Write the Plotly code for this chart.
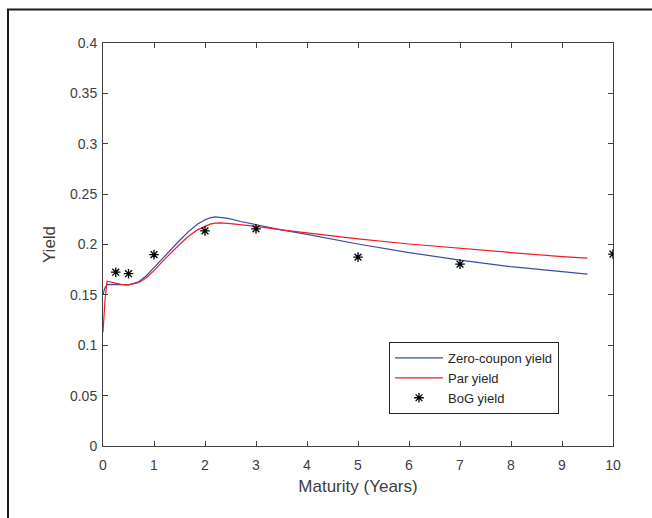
import plotly.graph_objects as go

# Data
zc_mat = [0.0, 0.03, 0.08, 0.25, 0.5, 0.7, 0.85, 1.0, 1.2, 1.35, 1.5, 1.67, 1.85, 2.0, 2.1, 2.2, 2.3, 2.45, 2.7, 3.0, 3.5, 4.0, 5.0, 6.0, 7.0, 8.0, 9.0, 9.5]
zc_yield = [0.150, 0.156, 0.1605, 0.1605, 0.160, 0.163, 0.169, 0.177, 0.188, 0.196, 0.204, 0.2125, 0.220, 0.2245, 0.2265, 0.2275, 0.2272, 0.2260, 0.2228, 0.2195, 0.2145, 0.2100, 0.2005, 0.1920, 0.1845, 0.1780, 0.1730, 0.1705]

par_mat = [0.0, 0.04, 0.08, 0.2, 0.35, 0.5, 0.7, 0.85, 1.0, 1.2, 1.35, 1.5, 1.67, 1.85, 2.0, 2.1, 2.2, 2.3, 2.5, 3.0, 3.5, 4.0, 5.0, 6.0, 7.0, 8.0, 9.0, 9.5]
par_yield = [0.113, 0.145, 0.1635, 0.1625, 0.1605, 0.1600, 0.162, 0.167, 0.174, 0.185, 0.192, 0.200, 0.208, 0.2145, 0.218, 0.2202, 0.2213, 0.2215, 0.2207, 0.2180, 0.2145, 0.2115, 0.2055, 0.2005, 0.1960, 0.1920, 0.1880, 0.1865]

bog_mat = [0.25, 0.5, 1, 2, 3, 5, 7, 10]
bog_yield = [0.1725, 0.171, 0.190, 0.2135, 0.2155, 0.1875, 0.1805, 0.1905]

x_ticks = list(range(0, 11))
y_ticks = [0, 0.05, 0.1, 0.15, 0.2, 0.25, 0.3, 0.35, 0.4]
y_ticklabels = ["0", "0.05", "0.1", "0.15", "0.2", "0.25", "0.3", "0.35", "0.4"]

fig = go.Figure()
fig.add_trace(go.Scatter(x=zc_mat, y=zc_yield, mode="lines", name="Zero-coupon yield",
                         line=dict(color="#3a4ba6", width=1.2)))
fig.add_trace(go.Scatter(x=par_mat, y=par_yield, mode="lines", name="Par yield",
                         line=dict(color="#ee1c25", width=1.2)))
fig.add_trace(go.Scatter(x=bog_mat, y=bog_yield, mode="markers", name="BoG yield",
                         marker=dict(symbol="asterisk-open", size=8, color="black",
                                     line=dict(color="black", width=1.3))))

W, H = 652, 518
L, R, T, B = 103, 613, 43, 446
pw, ph = R - L, B - T

def px(xp):
    return (xp - L) / pw

def py(yp):
    return (B - yp) / ph

fig.update_layout(
    width=W, height=H,
    margin=dict(l=L, r=W - R, t=T, b=H - B),
    paper_bgcolor="white", plot_bgcolor="white",
    font=dict(family="Liberation Sans, Arial, sans-serif", color="#404040", size=14),
    showlegend=True,
    legend=dict(x=px(389), y=py(342), xanchor="left", yanchor="top",
                bordercolor="#262626", borderwidth=1, bgcolor="white",
                font=dict(size=13, color="#262626"), tracegroupgap=0,
                itemwidth=48),
    xaxis=dict(range=[0, 10], tickvals=x_ticks, ticks="inside", ticklen=5,
               showline=True, linecolor="#404040", linewidth=1, mirror="allticks",
               showgrid=False, zeroline=False, tickcolor="#404040",
               tickfont=dict(size=14), ticklabelstandoff=6,
               title=dict(text="Maturity (Years)", font=dict(size=17, color="#404040"), standoff=8)),
    yaxis=dict(range=[0, 0.4], tickvals=y_ticks, ticktext=y_ticklabels, ticks="inside", ticklen=5,
               showline=True, linecolor="#404040", linewidth=1, mirror="allticks",
               showgrid=False, zeroline=False, tickcolor="#404040",
               tickfont=dict(size=14), ticklabelstandoff=2,
               title=dict(text="Yield", font=dict(size=17, color="#404040"), standoff=10)),
    shapes=[
        dict(type="line", xref="paper", yref="paper", x0=px(7), x1=px(652), y0=py(9.5), y1=py(9.5),
             line=dict(color="#1a1a1a", width=2)),
        dict(type="line", xref="paper", yref="paper", x0=px(8), x1=px(8), y0=py(9), y1=py(518),
             line=dict(color="#1a1a1a", width=2)),
    ],
)

fig.write_html("out.html")
